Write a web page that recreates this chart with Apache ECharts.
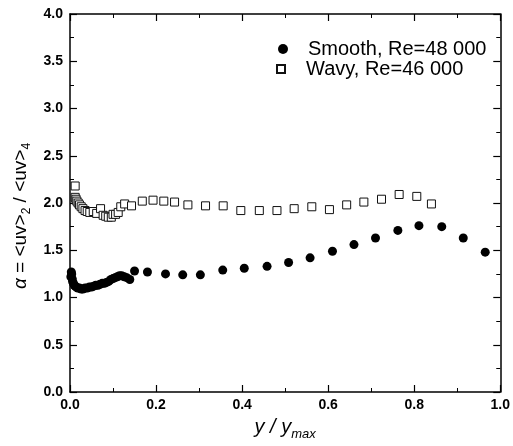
<!DOCTYPE html>
<html>
<head>
<meta charset="utf-8">
<script src="https://cdn.jsdelivr.net/npm/echarts@6/dist/echarts.min.js"></script>
<style>
  html, body { margin: 0; padding: 0; background: #fff; }
  #chart { width: 513px; height: 446px; }
</style>
</head>
<body>
<div id="chart"></div>
<script>
var chart = echarts.init(document.getElementById("chart"));

// Smooth wall, Re=48 000
var smoothX = [0.002, 0.003, 0.004, 0.005, 0.006, 0.008, 0.010, 0.012, 0.015, 0.018, 0.022, 0.026, 0.030, 0.035, 0.040, 0.045, 0.050, 0.055, 0.060, 0.065, 0.070, 0.075, 0.080, 0.085, 0.090, 0.095, 0.100, 0.105, 0.110, 0.115, 0.120, 0.126, 0.132, 0.139, 0.150, 0.180, 0.222, 0.262, 0.303, 0.355, 0.405, 0.458, 0.508, 0.558, 0.610, 0.660, 0.710, 0.762, 0.811, 0.864, 0.914, 0.965];
var smoothY = [1.22, 1.27, 1.25, 1.20, 1.17, 1.15, 1.13, 1.12, 1.11, 1.10, 1.10, 1.09, 1.09, 1.10, 1.10, 1.11, 1.11, 1.12, 1.13, 1.13, 1.14, 1.15, 1.15, 1.16, 1.17, 1.19, 1.20, 1.21, 1.22, 1.23, 1.23, 1.22, 1.21, 1.19, 1.28, 1.27, 1.25, 1.24, 1.24, 1.29, 1.31, 1.33, 1.37, 1.42, 1.49, 1.56, 1.63, 1.71, 1.76, 1.75, 1.63, 1.48];

// Wavy wall, Re=46 000
var wavyX = [0.012, 0.012, 0.014, 0.016, 0.019, 0.022, 0.026, 0.030, 0.035, 0.040, 0.046, 0.054, 0.062, 0.071, 0.077, 0.083, 0.089, 0.096, 0.100, 0.106, 0.112, 0.118, 0.127, 0.143, 0.168, 0.193, 0.218, 0.243, 0.274, 0.315, 0.356, 0.397, 0.440, 0.481, 0.521, 0.562, 0.603, 0.643, 0.683, 0.724, 0.765, 0.806, 0.840];
var wavyY = [2.18, 2.06, 2.04, 2.02, 2.00, 1.98, 1.96, 1.94, 1.92, 1.91, 1.90, 1.91, 1.89, 1.94, 1.87, 1.86, 1.85, 1.85, 1.88, 1.88, 1.90, 1.96, 1.99, 1.97, 2.02, 2.03, 2.02, 2.01, 1.98, 1.97, 1.97, 1.92, 1.92, 1.92, 1.94, 1.96, 1.93, 1.98, 2.01, 2.04, 2.09, 2.07, 1.99];

var smoothName = "Smooth, Re=48 000";
var wavyName = "Wavy, Re=46 000";

function pairs(xs, ys) {
  var out = [];
  for (var i = 0; i < xs.length; i++) out.push([xs[i], ys[i]]);
  return out;
}

var font = "Liberation Sans, Arial, sans-serif";
var axisLine = { show: true, onZero: false, lineStyle: { color: "#000", width: 1.5 } };
var tick = { show: true, inside: true, length: 7, lineStyle: { color: "#000", width: 1.2 } };
var minorTick = { show: true, splitNumber: 2, length: 4, lineStyle: { color: "#000", width: 1 } };
var tickLabel = {
  color: "#000", fontFamily: font, fontWeight: "bold", fontSize: 14,
  formatter: function (v) { return v.toFixed(1); }
};

chart.setOption({
  animation: false,
  grid: { left: 70, right: 11, top: 14, bottom: 51 },
  legend: [
    {
      left: 273, top: 34, itemWidth: 40, itemHeight: 10, symbolKeepAspect: true,
      data: [{ name: smoothName, icon: "circle" }],
      textStyle: { fontFamily: font, fontSize: 20, color: "#000" }
    },
    {
      left: 271, top: 54, itemWidth: 40, itemHeight: 8, symbolKeepAspect: true,
      data: [{ name: wavyName, icon: "path://M0,0L10,0L10,10L0,10Z" }],
      textStyle: { fontFamily: font, fontSize: 20, color: "#000" }
    }
  ],
  xAxis: [
    {
      type: "value", position: "bottom", min: 0, max: 1, interval: 0.2,
      axisLine: axisLine, axisTick: tick, minorTick: minorTick,
      axisLabel: Object.assign({ margin: 6 }, tickLabel),
      splitLine: { show: false },
      name: "{i|y / y}{s|max}", nameLocation: "middle", nameGap: 22,
      nameTextStyle: {
        fontFamily: font, color: "#000",
        rich: {
          i: { fontFamily: font, fontStyle: "italic", fontSize: 20, color: "#000" },
          s: { fontFamily: font, fontStyle: "italic", fontSize: 13, color: "#000", padding: [14, 0, 0, 0] }
        }
      }
    },
    {
      type: "value", position: "top", min: 0, max: 1, interval: 0.2,
      axisLine: axisLine, axisTick: tick, minorTick: minorTick,
      axisLabel: { show: false }, splitLine: { show: false }
    }
  ],
  yAxis: [
    {
      type: "value", position: "left", min: 0, max: 4, interval: 0.5,
      axisLine: axisLine, axisTick: tick, minorTick: minorTick,
      axisLabel: Object.assign({ margin: 7 }, tickLabel),
      splitLine: { show: false },
      name: "{a|α} = <uv>{s|2} / <uv>{s|4}", nameLocation: "middle", nameGap: 36,
      nameTextStyle: {
        fontFamily: font, fontSize: 19, color: "#000", padding: [0, 26, 0, 0],
        rich: {
          a: { fontFamily: font, fontStyle: "italic", fontSize: 19, color: "#000" },
          s: { fontFamily: font, fontSize: 12, color: "#000", padding: [12, 0, 0, 0] }
        }
      }
    },
    {
      type: "value", position: "right", min: 0, max: 4, interval: 0.5,
      axisLine: axisLine, axisTick: tick, minorTick: minorTick,
      axisLabel: { show: false }, splitLine: { show: false }
    }
  ],
  series: [
    {
      name: smoothName, type: "scatter", symbol: "circle", symbolSize: 9,
      itemStyle: { color: "#000", opacity: 1 },
      data: pairs(smoothX, smoothY)
    },
    {
      name: wavyName, type: "scatter", symbol: "rect", symbolSize: 8,
      itemStyle: { color: "#fff", borderColor: "#111", borderWidth: 1, opacity: 1 },
      data: pairs(wavyX, wavyY)
    }
  ]
});
</script>
</body>
</html>
